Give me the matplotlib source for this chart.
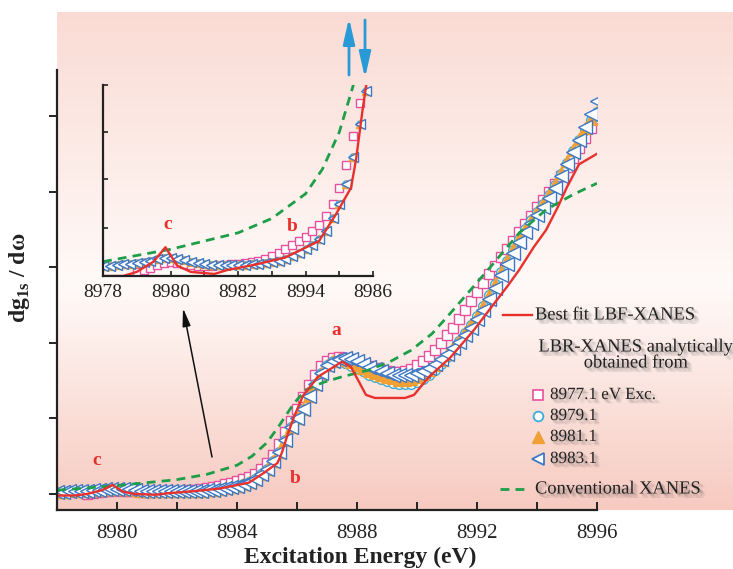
import numpy as np
import matplotlib
matplotlib.use("Agg")
import matplotlib.pyplot as plt
import matplotlib.patheffects as pe

plt.rcParams['font.family'] = ['Liberation Serif', 'DejaVu Serif']
plt.rcParams['mathtext.fontset'] = 'custom'
plt.rcParams['mathtext.rm'] = 'Liberation Serif'
plt.rcParams['mathtext.bf'] = 'Liberation Serif:bold'

# energy grid of the LBR-XANES points (eV)
energy = [8978.0, 8978.2, 8978.4, 8978.6, 8978.8, 8979.0, 8979.2, 8979.4, 8979.6, 8979.8,
          8980.0, 8980.2, 8980.4, 8980.6, 8980.8, 8981.0, 8981.2, 8981.4, 8981.6, 8981.8,
          8982.0, 8982.2, 8982.4, 8982.6, 8982.8, 8983.0, 8983.2, 8983.4, 8983.6, 8983.8,
          8984.0, 8984.2, 8984.4, 8984.6, 8984.8, 8985.0, 8985.2, 8985.4, 8985.6, 8985.8,
          8986.0, 8986.2, 8986.4, 8986.6, 8986.8, 8987.0, 8987.2, 8987.4, 8987.6, 8987.8,
          8988.0, 8988.2, 8988.4, 8988.6, 8988.8, 8989.0, 8989.2, 8989.4, 8989.6, 8989.8,
          8990.0, 8990.2, 8990.4, 8990.6, 8990.8, 8991.0, 8991.2, 8991.4, 8991.6, 8991.8,
          8992.0, 8992.2, 8992.4, 8992.6, 8992.8, 8993.0, 8993.2, 8993.4, 8993.6, 8993.8,
          8994.0, 8994.2, 8994.4, 8994.6, 8994.8, 8995.0, 8995.2, 8995.4, 8995.6, 8995.8,
          8996.0]

nan = np.nan
exc_8977 = [nan, nan, nan, nan, nan, 0.0, 0.01, 0.02, 0.035, 0.045,
            0.05, 0.045, 0.04, 0.035, 0.03, 0.03, 0.03, 0.035, 0.035, 0.04,
            0.04, 0.045, 0.05, 0.055, 0.065, 0.075, 0.09, 0.11, 0.13, 0.15,
            0.17, 0.2, 0.23, 0.27, 0.33, 0.41, 0.52, 0.66, 0.82, 0.97,
            1.12, 1.28, 1.44, 1.58, 1.69, 1.76, 1.8, 1.81, 1.8, 1.78,
            1.75, 1.72, 1.69, 1.66, 1.64, 1.62, 1.61, 1.61, 1.62, 1.65,
            1.7, 1.76, 1.83, 1.91, 2.0, 2.1, 2.2, 2.31, 2.43, 2.55,
            2.67, 2.79, 2.91, 3.02, 3.13, 3.24, 3.35, 3.46, 3.57, 3.68,
            3.79, 3.89, 3.99, 4.1, 4.21, 4.33, 4.45, 4.58, 4.71, 4.84,
            4.97]

exc_8979 = [0.03, 0.03, 0.035, 0.04, 0.04, 0.045, 0.05, 0.055, 0.065, 0.07,
            0.07, 0.065, 0.06, 0.05, 0.045, 0.04, 0.035, 0.035, 0.035, 0.035,
            0.035, 0.035, 0.04, 0.04, 0.045, 0.05, 0.055, 0.065, 0.075, 0.09,
            0.11, 0.13, 0.16, 0.2, 0.26, 0.33, 0.43, 0.56, 0.72, 0.88,
            1.0, 1.13, 1.29, 1.45, 1.6, 1.7, 1.76, 1.76, 1.73, 1.69,
            1.66, 1.62, 1.58, 1.55, 1.52, 1.49, 1.47, 1.46, 1.45, 1.46,
            1.48, 1.52, 1.57, 1.64, 1.72, 1.81, 1.91, 2.02, 2.13, 2.24,
            2.36, 2.49, 2.63, 2.78, 2.93, 3.08, 3.23, 3.37, 3.5, 3.62,
            3.73, 3.84, 3.96, 4.09, 4.23, 4.38, 4.53, 4.68, 4.82, 4.95,
            5.05]

exc_8981 = [0.03, 0.03, 0.035, 0.04, 0.04, 0.045, 0.05, 0.055, 0.065, 0.07,
            0.07, 0.065, 0.06, 0.05, 0.045, 0.04, 0.035, 0.035, 0.035, 0.035,
            0.035, 0.035, 0.04, 0.04, 0.045, 0.05, 0.055, 0.065, 0.075, 0.09,
            0.11, 0.13, 0.16, 0.2, 0.26, 0.33, 0.43, 0.56, 0.72, 0.88,
            1.0, 1.13, 1.29, 1.45, 1.6, 1.7, 1.76, 1.78, 1.77, 1.74,
            1.7, 1.66, 1.63, 1.6, 1.57, 1.55, 1.53, 1.51, 1.51, 1.52,
            1.55, 1.59, 1.64, 1.7, 1.77, 1.85, 1.94, 2.04, 2.14, 2.25,
            2.36, 2.49, 2.63, 2.78, 2.94, 3.09, 3.24, 3.38, 3.51, 3.63,
            3.74, 3.85, 3.97, 4.1, 4.25, 4.4, 4.55, 4.7, 4.84, 4.96,
            5.05]

exc_8983 = [0.03, 0.03, 0.035, 0.04, 0.04, 0.045, 0.05, 0.055, 0.065, 0.07,
            0.07, 0.065, 0.06, 0.05, 0.045, 0.04, 0.035, 0.035, 0.035, 0.035,
            0.035, 0.035, 0.04, 0.04, 0.045, 0.05, 0.055, 0.065, 0.075, 0.09,
            0.11, 0.13, 0.16, 0.2, 0.26, 0.33, 0.43, 0.56, 0.72, 0.88,
            1.0, 1.13, 1.29, 1.45, 1.6, 1.7, 1.76, 1.79, 1.8, 1.79,
            1.76, 1.72, 1.68, 1.65, 1.62, 1.6, 1.58, 1.57, 1.57, 1.58,
            1.6, 1.63, 1.67, 1.72, 1.78, 1.85, 1.93, 2.01, 2.1, 2.2,
            2.31, 2.44, 2.58, 2.73, 2.89, 3.04, 3.19, 3.33, 3.46, 3.58,
            3.69, 3.8, 3.92, 4.05, 4.2, 4.36, 4.52, 4.68, 4.85, 5.02,
            5.2]

# best fit LBF-XANES
fit_e = [8978.0, 8978.6, 8979.0, 8979.5, 8979.85, 8980.2, 8980.6, 8981.3, 8981.7, 8982.5,
         8983.4, 8983.9, 8984.4, 8984.9, 8985.35, 8985.5, 8985.7, 8985.9, 8986.2, 8986.7,
         8987.5, 8987.8, 8988.3, 8988.6, 8989.6, 8989.9, 8990.4, 8991.1, 8991.9, 8992.4,
         8993.0, 8993.4, 8993.9, 8994.3, 8994.7, 8995.0, 8995.4, 8996.0]
fit_v = [-0.02, -0.02, 0.0, 0.05, 0.12, 0.03, 0.0, -0.01, 0.01, 0.035,
         0.07, 0.11, 0.15, 0.28, 0.41, 0.55, 0.8, 1.02, 1.3, 1.55,
         1.75, 1.68, 1.31, 1.27, 1.27, 1.31, 1.55, 1.8, 2.17, 2.43,
         2.74, 2.96, 3.27, 3.49, 3.8, 4.06, 4.36, 4.5]

# conventional XANES
conv_e = [8978.0, 8979.0, 8980.0, 8981.0, 8982.0, 8983.0, 8984.0, 8984.5, 8985.0, 8985.4,
          8985.9, 8986.3, 8986.9, 8987.5, 8988.4, 8989.1, 8989.8, 8990.5, 8991.0, 8991.7,
          8992.4, 8993.4, 8994.3, 8995.2, 8996.0]
conv_v = [0.05, 0.08, 0.11, 0.15, 0.19, 0.26, 0.38, 0.5, 0.68, 0.9,
          1.2, 1.38, 1.48, 1.55, 1.64, 1.75, 1.9, 2.12, 2.34, 2.66,
          2.98, 3.45, 3.76, 3.96, 4.11]

inset_xticks = [8978, 8980, 8982, 8984, 8986]
inset_xlabels = ['8978', '8980', '8982', '8994', '8986']

RED = '#e8302c'
GREEN = '#1e9e48'
PINK = '#e8509c'
CYAN = '#3aaed8'
ORANGE = '#f0a035'
BLUE = '#3d78c4'
LBLUE = '#2a9ad6'

W, H = 733, 569
fig = plt.figure(figsize=(W / 100, H / 100), dpi=100)

# pink-white-pink background panel
bg = fig.add_axes([57 / W, 59 / H, 676 / W, 498 / H], zorder=0)
t = np.linspace(0, 1, 256)
stops = [0.0, 0.55, 1.0]
cols = np.array([[250, 219, 212], [255, 250, 248], [247, 202, 192]]) / 255
grad = np.stack([np.interp(t, stops, cols[:, k]) for k in range(3)], axis=1)
bg.imshow(grad[:, None, :], aspect='auto', extent=[0, 1, 0, 1])
bg.axis('off')


def draw_series(ax, small=False):
    s = 0.75 if small else 1.0
    ax.plot(energy, exc_8977, ls='none', marker='s', ms=7 * s, mfc='white', mec=PINK, mew=1.0)
    ax.plot(energy, exc_8979, ls='none', marker='o', ms=7 * s, mfc='white', mec=CYAN, mew=1.0)
    ax.plot(energy, exc_8981, ls='none', marker='^', ms=8 * s, mfc=ORANGE, mec=ORANGE, mew=1.0)
    ax.plot(energy, exc_8983, ls='none', marker='<', ms=9.5 * s, mfc='white', mec=BLUE, mew=1.0)
    ax.plot(conv_e, conv_v, color=GREEN, lw=2.0, ls=(0, (3.2, 2.2)))
    ax.plot(fit_e, fit_v, color=RED, lw=1.7)


def style_spines(ax):
    for side in ['top', 'right']:
        ax.spines[side].set_visible(False)
    for side in ['left', 'bottom']:
        ax.spines[side].set_linewidth(1.6)
        ax.spines[side].set_color('#222222')


# main axes
ax = fig.add_axes([57 / W, 59 / H, 540 / W, 440 / H], zorder=1)
ax.patch.set_alpha(0)
draw_series(ax)
ax.set_xlim(8978, 8996)
ax.set_ylim(-0.212, 5.608)
style_spines(ax)
ax.set_xticks([8980, 8984, 8988, 8992, 8996])
ax.set_xticks([8982, 8986, 8990, 8994], minor=True)
ax.set_yticks([0, 1, 2, 3, 4, 5])
ax.set_yticklabels([])
ax.tick_params(axis='x', which='both', direction='in', length=5.5, width=1.4,
               labelsize=15, pad=10, colors='#222222')
ax.tick_params(axis='y', direction='out', length=6, width=1.4, colors='#222222')

lab = dict(color=RED, fontsize=14, fontweight='bold', ha='center', va='center')
ax.text(8987.3, 2.16, 'a', **lab)
ax.text(8985.93, 0.21, 'b', **lab)
ax.text(8979.33, 0.44, 'c', **lab)

# inset
ins = fig.add_axes([103 / W, 293 / H, 270 / W, 191 / H], zorder=2)
ins.patch.set_alpha(0)
draw_series(ins, small=True)
ins.set_xlim(8978, 8986)
ins.set_ylim(-0.02, 0.91)
style_spines(ins)
ins.set_xticks(inset_xticks)
ins.set_xticklabels(inset_xlabels)
ins.set_xticks([8979, 8981, 8983, 8985], minor=True)
ins.set_yticks([0.025, 0.215, 0.45, 0.68, 0.91])
ins.set_yticklabels([])
ins.tick_params(axis='x', which='both', direction='in', length=3.5, width=1.2,
                labelsize=14, pad=6, colors='#222222')
ins.tick_params(axis='y', direction='in', length=3.5, width=1.2, colors='#222222')
ins.text(8979.93, 0.23, 'c', **lab)
ins.text(8983.6, 0.22, 'b', **lab)

# overlay for axis titles, arrows and the hand-made legend (pixel coordinates)
ov = fig.add_axes([0, 0, 1, 1], zorder=3)
ov.set_xlim(0, W)
ov.set_ylim(H, 0)
ov.axis('off')

ov.text(360, 557, 'Excitation Energy (eV)', fontsize=17, fontweight='bold',
        ha='center', va='center', color='#222222')
ov.text(20, 278, r'dg$_{\mathbf{1s}}$ / dω', fontsize=17, fontweight='bold',
        rotation=90, ha='center', va='center', color='#222222')

blue_arrow = dict(arrowstyle='-|>,head_length=1.1,head_width=0.25', color=LBLUE,
                  lw=2.0, shrinkA=0, shrinkB=0, mutation_scale=14)
ov.annotate('', xy=(349, 18), xytext=(349, 75), arrowprops=blue_arrow)
ov.annotate('', xy=(365, 78), xytext=(365, 20), arrowprops=blue_arrow)
ov.annotate('', xy=(183, 308), xytext=(212, 457),
            arrowprops=dict(arrowstyle='-|>,head_length=0.9,head_width=0.2', color='#111111',
                            lw=1.1, shrinkA=0, shrinkB=0, mutation_scale=12))

shadow = [pe.SimplePatchShadow(offset=(dx, -dy), shadow_rgbFace='0.25', alpha=0.07)
          for dx, dy in [(1, 1), (2, 2), (3, 3), (2, 1), (1, 2), (3, 2), (2, 3), (4, 3)]]
shadow.append(pe.Normal())
leg = dict(fontsize=13.3, va='center', color='#222222', path_effects=shadow)
num = dict(fontsize=12.3, va='center', color='#222222', path_effects=shadow)

ov.plot([503, 532], [315, 315], color=RED, lw=1.7)
ov.text(535, 315, 'Best fit LBF-XANES', **leg)
ov.text(636, 347, 'LBR-XANES analytically', ha='center', **leg)
ov.text(636, 363, 'obtained from', ha='center', **leg)
ov.plot([538], [395], ls='none', marker='s', ms=6.5, mfc='white', mec=PINK, mew=1.2)
ov.text(550, 395, '8977.1 eV Exc.', **num)
ov.plot([538], [416], ls='none', marker='o', ms=7, mfc='white', mec=CYAN, mew=1.3)
ov.text(550, 416, '8979.1', **num)
ov.plot([538], [437], ls='none', marker='^', ms=9, mfc=ORANGE, mec=ORANGE)
ov.text(550, 437, '8981.1', **num)
ov.plot([538], [459], ls='none', marker='<', ms=9, mfc='white', mec=BLUE, mew=1.3)
ov.text(550, 459, '8983.1', **num)
ov.plot([500, 528], [489, 489], color=GREEN, lw=2.0, ls=(0, (3.2, 2.2)))
ov.text(535, 489, 'Conventional XANES', **leg)

fig.savefig('out.png', dpi=100)
